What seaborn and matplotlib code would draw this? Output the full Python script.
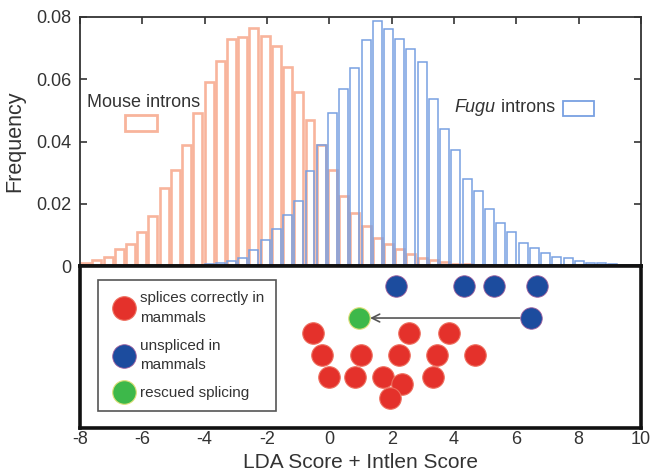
import numpy as np
import pandas as pd
import matplotlib
matplotlib.use("Agg")
import matplotlib.pyplot as plt
import seaborn as sns
from matplotlib.lines import Line2D
from matplotlib.patches import Rectangle

# ---------------- data ----------------
bin_lo, bin_hi, n_bins = -8.0, 10.0, 50

mouse_freq = [0.001, 0.002, 0.003, 0.0055, 0.007, 0.011, 0.016, 0.025, 0.031, 0.039,
              0.049, 0.059, 0.066, 0.073, 0.0735, 0.0765, 0.074, 0.0706, 0.064, 0.056,
              0.047, 0.039, 0.031, 0.0226, 0.017, 0.013, 0.009, 0.007, 0.0055, 0.004,
              0.0025, 0.0018, 0.0012, 0.0008, 0.0005, 0.0003, 0.0002, 0, 0, 0,
              0, 0, 0, 0, 0, 0, 0, 0, 0, 0]

fugu_freq = [0, 0, 0, 0, 0, 0, 0, 0, 0, 0,
             0.0002, 0.0005, 0.001, 0.0015, 0.0025, 0.005, 0.0085, 0.012, 0.0165, 0.021,
             0.0305, 0.039, 0.049, 0.057, 0.0635, 0.0726, 0.0788, 0.076, 0.0729, 0.0696,
             0.0656, 0.0538, 0.0441, 0.0373, 0.028, 0.024, 0.0183, 0.0137, 0.0108, 0.0075,
             0.0057, 0.0041, 0.0029, 0.0027, 0.0016, 0.001, 0.001, 0.0006, 0.0003, 0.0002]

# bottom panel: LDA score (x) and display row level (y)
correct_x = [-0.52, 2.55, 3.83, -0.25, 1.02, 2.23, 3.45, 4.68, -0.02, 0.83, 1.71, 2.33, 3.32, 1.95]
correct_y = [5.86, 5.86, 5.86, 4.51, 4.51, 4.51, 4.51, 4.51, 3.15, 3.15, 3.15, 2.72, 3.15, 1.85]
unspliced_x = [2.13, 4.33, 5.28, 6.66, 6.47]
unspliced_y = [8.77, 8.77, 8.77, 8.77, 6.79]
rescued_x = [0.95]
rescued_y = [6.79]

x_ticks = [-8, -6, -4, -2, 0, 2, 4, 6, 8, 10]
y_ticks = [0, 0.02, 0.04, 0.06, 0.08]
y_ticklabels = ["0", "0.02", "0.04", "0.06", "0.08"]

legend_labels = ["splices correctly in\nmammals", "unspliced in\nmammals", "rescued splicing"]

# ---------------- style ----------------
SALMON = "#f8b49c"
BLUE = "#78a0e2"
RED = "#e4312b"
RED_EDGE = "#ee6f5f"
DBLUE = "#1c4c9e"
DBLUE_EDGE = "#a0609e"
GREEN = "#3db84a"
GREEN_EDGE = "#dfe07a"
TXT = "#333333"

sns.set_style("white")
plt.rcParams["font.family"] = ["Liberation Sans", "DejaVu Sans"]

fig = plt.figure(figsize=(6.52, 4.72), dpi=100)
ax1 = fig.add_axes([0.1227, 0.4364, 0.8604, 0.5276])
ax2 = fig.add_axes([0.1227, 0.0932, 0.8604, 0.3432])

edges = np.linspace(bin_lo, bin_hi, n_bins + 1)
centers = (edges[:-1] + edges[1:]) / 2
hist_df = pd.DataFrame({"center": centers, "mouse": mouse_freq, "fugu": fugu_freq})
edge_list = [float(e) for e in edges]

sns.histplot(data=hist_df, x="center", weights="mouse", bins=edge_list, shrink=0.8,
             fill=False, color=SALMON, linewidth=1.9, ax=ax1)
sns.histplot(data=hist_df, x="center", weights="fugu", bins=edge_list, shrink=0.8,
             fill=False, color=BLUE, linewidth=1.1, ax=ax1)

ax1.set_xlim(bin_lo, bin_hi)
ax1.set_ylim(0, 0.08)
ax1.set_xticks(x_ticks)
ax1.set_yticks(y_ticks)
ax1.set_yticklabels(y_ticklabels)
ax1.tick_params(axis="x", which="both", top=True, bottom=False, labelbottom=False,
                labeltop=False, direction="in", length=5, width=1.2, color=TXT)
ax1.tick_params(axis="y", which="both", left=True, right=True, direction="in",
                length=5, width=1.2, color=TXT, labelsize=13, labelcolor=TXT, pad=6)
ax1.set_xlabel("")
ax1.set_ylabel("Frequency", fontsize=15.5, color=TXT, labelpad=8)
for s in ["left", "top", "right"]:
    ax1.spines[s].set_linewidth(1.3)
    ax1.spines[s].set_color(TXT)
ax1.spines["bottom"].set_linewidth(2.6)
ax1.spines["bottom"].set_color("#111111")

# in-panel legend-like annotations
ax1.text(0.0125, 0.655, "Mouse introns", transform=ax1.transAxes, fontsize=13,
         color=TXT, ha="left", va="center")
ax1.add_patch(Rectangle((0.0802, 0.542), 0.057, 0.064, transform=ax1.transAxes,
                        fill=False, edgecolor=SALMON, linewidth=2.0))
t_in = ax1.text(0.8467, 0.635, " introns", transform=ax1.transAxes, fontsize=13,
                color=TXT, ha="right", va="center")
ax1.annotate("Fugu", xy=(0, 0.5), xycoords=t_in, fontsize=13, color=TXT,
             style="italic", ha="right", va="center")
ax1.add_patch(Rectangle((0.861, 0.602), 0.0553, 0.060, transform=ax1.transAxes,
                        fill=False, edgecolor=BLUE, linewidth=1.3))

# ---------------- bottom panel ----------------
ax2.annotate("", xy=(rescued_x[0], rescued_y[0]), xytext=(unspliced_x[4], unspliced_y[4]),
             arrowprops=dict(arrowstyle="->", color="#555555", lw=1.2, shrinkA=8,
                             shrinkB=8, mutation_scale=14), zorder=1)

sns.scatterplot(x=correct_x, y=correct_y, s=240, color=RED, edgecolor=RED_EDGE,
                linewidth=0.8, ax=ax2, zorder=3, legend=False)
sns.scatterplot(x=unspliced_x, y=unspliced_y, s=240, color=DBLUE, edgecolor=DBLUE_EDGE,
                linewidth=0.6, ax=ax2, zorder=3, legend=False)
sns.scatterplot(x=rescued_x, y=rescued_y, s=240, color=GREEN, edgecolor=GREEN_EDGE,
                linewidth=0.8, ax=ax2, zorder=3, legend=False)

ax2.set_xlim(bin_lo, bin_hi)
ax2.set_ylim(0, 10)
ax2.set_xticks(x_ticks)
ax2.set_xticklabels([str(v) for v in x_ticks])
ax2.set_yticks([])
ax2.tick_params(axis="x", length=0, labelsize=13, labelcolor=TXT, pad=2)
ax2.set_xlabel("LDA Score + Intlen Score", fontsize=15, color=TXT, labelpad=4)
ax2.set_ylabel("")
for s in ax2.spines.values():
    s.set_linewidth(2.6)
    s.set_color("#111111")

handles = [
    Line2D([], [], marker="o", ls="", markersize=17, markerfacecolor=RED,
           markeredgecolor=RED_EDGE, markeredgewidth=0.8),
    Line2D([], [], marker="o", ls="", markersize=17, markerfacecolor=DBLUE,
           markeredgecolor=DBLUE_EDGE, markeredgewidth=0.6),
    Line2D([], [], marker="o", ls="", markersize=17, markerfacecolor=GREEN,
           markeredgecolor=GREEN_EDGE, markeredgewidth=0.8),
]
leg = ax2.legend(handles, legend_labels, loc="upper left", bbox_to_anchor=(0.032, 0.914),
                 borderaxespad=0, frameon=True, fancybox=False, edgecolor="#555555",
                 fontsize=11, handletextpad=0.1, labelspacing=0.9, borderpad=0.75,
                 handlelength=1.9, framealpha=1)
leg.get_frame().set_linewidth(1.2)
for t in leg.get_texts():
    t.set_color(TXT)
    t.set_linespacing(1.5)

fig.savefig("out.png", dpi=100)
